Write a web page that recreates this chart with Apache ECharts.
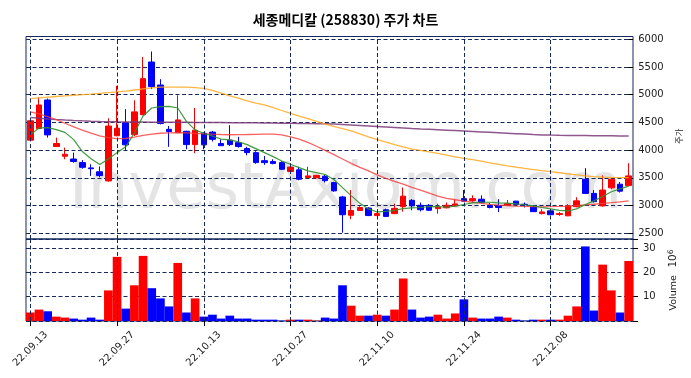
<!DOCTYPE html>
<html><head><meta charset="utf-8">
<script src="https://cdn.jsdelivr.net/npm/echarts@6/dist/echarts.min.js"></script>
<style>html,body{margin:0;padding:0;background:#fff}#c{width:691px;height:378px}</style>
</head><body><div id="c"></div>
<script>
const dates = ['22.09.13','22.09.14','22.09.15','22.09.16','22.09.19','22.09.20','22.09.21','22.09.22','22.09.23','22.09.26',
'22.09.27','22.09.28','22.09.29','22.09.30','22.10.04','22.10.05','22.10.06','22.10.07','22.10.11','22.10.12',
'22.10.13','22.10.14','22.10.17','22.10.18','22.10.19','22.10.20','22.10.21','22.10.24','22.10.25','22.10.26',
'22.10.27','22.10.28','22.10.31','22.11.01','22.11.02','22.11.03','22.11.04','22.11.07','22.11.08','22.11.09',
'22.11.10','22.11.11','22.11.14','22.11.15','22.11.16','22.11.17','22.11.18','22.11.21','22.11.22','22.11.23',
'22.11.24','22.11.25','22.11.28','22.11.29','22.11.30','22.12.01','22.12.02','22.12.05','22.12.06','22.12.07',
'22.12.08','22.12.09','22.12.12','22.12.13','22.12.14','22.12.15','22.12.16','22.12.19','22.12.20','22.12.21'];
const tickDates = ['22.09.13','22.09.27','22.10.13','22.10.27','22.11.10','22.11.24','22.12.08'];

const openP  = [4180,4390,4905,4065,3890,3840,3775,3680,3610,3445, 4260,4495,4280,4640,5590,5175,4375,4315,4340,4100,
                4305,4325,4120,4180,4135,4030,3955,3810,3795,3775, 3615,3645,3505,3500,3530,3415,3155,2825,2910,2955,
                2820,2925,2855,2980,3095,3005,3005,2945,2960,2995, 3125,3090,3115,3005,2995,3005,3080,3025,2975,2855,
                2905,2840,2815,2980,3475,3220,2995,3320,3385,3360];
const closeP = [4530,4815,4275,4120,3925,3795,3690,3665,3540,4435, 4395,4095,4690,5290,5145,4480,4335,4545,4100,4360,
                4095,4195,4080,4100,4065,3955,3775,3775,3760,3655, 3695,3475,3535,3545,3450,3265,2835,2910,2965,2820,
                2855,2805,2950,3170,2995,2925,2915,2975,3005,3030, 3080,3125,3055,2965,2965,3035,3020,3015,2890,2885,
                2835,2855,2995,3085,3220,3070,3280,3475,3260,3535];
const lowP   = [4175,4380,4225,4060,3835,3775,3665,3535,3510,3430, 4250,4005,4255,4630,5100,4465,4060,4305,4015,3945,
                4015,4155,4075,4075,4045,3905,3755,3735,3745,3640, 3595,3455,3500,3495,3415,3250,2510,2755,2905,2810,
                2810,2795,2845,2890,2915,2895,2905,2855,2950,2980, 3070,3055,3040,2950,2885,2990,3010,2965,2885,2840,
                2830,2815,2810,2970,3210,3055,2980,3295,3235,3350];
const highP  = [4545,4950,4930,4225,4045,3955,3820,3745,3705,4575, 5160,4740,4900,5680,5780,5280,4435,4990,4350,4760,
                4320,4345,4195,4450,4240,4060,3980,3895,3835,3800, 3765,3700,3700,3550,3550,3430,3175,3280,2990,2970,
                2870,2945,3035,3325,3115,3055,3025,3035,3055,3115, 3280,3185,3185,3050,3115,3100,3085,3055,2995,2935,
                2915,2885,3025,3150,3675,3280,3545,3490,3425,3765];
const volume = [3.5,4.7,4.0,1.8,1.4,1.0,0.55,1.4,0.55,12.6, 26.4,5.1,14.7,26.8,13.5,9.3,6.0,23.9,3.5,9.3,
                1.8,2.6,1.0,2.2,1.0,1.0,0.55,0.55,0.55,0.15, 0.55,0.55,0.55,0.15,1.4,1.0,14.7,6.3,2.2,2.2,
                2.6,2.2,4.7,17.5,4.7,1.4,1.8,2.6,1.0,3.1, 8.9,1.4,1.0,1.0,1.8,1.4,0.55,0.15,0.55,0.55,
                0.55,0.55,2.2,6.0,30.7,4.3,23.2,12.6,3.5,24.7];
const ma5   = [4280,4400,4405,4370,4320,4190,3975,3845,3740,3840, 3955,4060,4310,4615,4760,4785,4790,4760,4520,4365,
               4305,4255,4200,4184,4148,4100,4028,3955,3883,3805, 3745,3685,3625,3595,3560,3470,3324,3180,3040,2940,
               2885,2895,2915,2945,2960,2965,2980,2980,2970,2990, 3020,3050,3062,3060,3048,3045,3030,3015,2995,2965,
               2940,2915,2905,2940,3020,3085,3165,3250,3300,3350];
const ma20  = [4690,4655,4605,4548,4485,4420,4360,4305,4258,4225, 4208,4210,4235,4265,4290,4305,4312,4314,4310,4302,
               4295,4288,4282,4278,4280,4282,4285,4288,4290,4276, 4240,4200,4140,4070,3995,3920,3840,3762,3688,3625,
               3555,3490,3435,3385,3330,3278,3225,3170,3130,3105, 3080,3060,3040,3022,3008,2998,2990,2984,2980,2978,
               2980,2984,2990,3000,3012,3024,3038,3052,3068,3085];
const ma60  = [4930,4942,4955,4968,4980,4990,5000,5012,5025,5038, 5050,5065,5085,5105,5122,5135,5138,5138,5135,5128,
               5115,5080,5030,4980,4938,4890,4850,4815,4765,4715, 4665,4615,4570,4520,4470,4428,4388,4346,4295,4240,
               4190,4145,4100,4058,4020,3995,3968,3940,3910,3880, 3853,3828,3800,3772,3745,3718,3692,3670,3650,3630,
               3612,3592,3572,3552,3535,3522,3514,3508,3505,3503];
const ma120 = [4590,4576,4563,4552,4543,4535,4528,4522,4517,4513, 4510,4508,4507,4506,4505,4504,4503,4502,4501,4500,
               4499,4498,4497,4496,4495,4494,4492,4490,4488,4486, 4484,4482,4480,4478,4476,4472,4463,4454,4445,4436,
               4427,4418,4409,4400,4391,4383,4376,4369,4361,4353, 4345,4337,4329,4321,4313,4305,4297,4289,4281,4275,
               4271,4268,4266,4264,4262,4260,4259,4258,4257,4256];

const NAVY = '#14285e';
const DASH = [4, 2.5];
const FONT = 'DejaVu Sans';
const isTick = (i, v) => tickDates.indexOf(v) >= 0;

const chart = echarts.init(document.getElementById('c'), null, {renderer: 'canvas'});
const vline = {
  symbol: ['none', 'none'], silent: true, animation: false,
  label: {show: false}, emphasis: {disabled: true},
  lineStyle: {type: DASH, color: NAVY, width: 1},
  data: tickDates.map(d => ({xAxis: d}))
};

chart.setOption({
  animation: false,
  backgroundColor: '#fff',
  title: {
    text: '세종메디칼 (258830) 주가 차트', left: 'center', top: 8,
    textStyle: {fontSize: 14, fontWeight: 'bold', color: '#000', fontFamily: 'Noto Sans CJK KR'}
  },
  graphic: [{
    type: 'text', x: 345.5, y: 191, z: -10, silent: true,
    style: {text: 'InvestAxiom.com', font: '64px "DejaVu Sans"', fill: '#e4e4e4',
            textAlign: 'center', textVerticalAlign: 'middle'}
  }],
  grid: [
    {left: 26, right: 58, top: 36.5, height: 202.5, show: true, borderColor: NAVY, borderWidth: 1, backgroundColor: 'transparent'},
    {left: 26, right: 58, top: 39.3, height: 194},
    {left: 26, right: 58, top: 239, height: 82, show: true, borderColor: NAVY, borderWidth: 1, backgroundColor: 'transparent'}
  ],
  xAxis: [
    {gridIndex: 0, type: 'category', data: dates, boundaryGap: true,
     axisLine: {show: false}, axisTick: {show: false}, axisLabel: {show: false}, splitLine: {show: false}},
    {gridIndex: 1, type: 'category', data: dates, show: false},
    {gridIndex: 2, type: 'category', data: dates, boundaryGap: true,
     axisLine: {show: false}, splitLine: {show: false},
     axisTick: {show: true, alignWithLabel: true, interval: isTick, length: 5, lineStyle: {color: '#000'}},
     axisLabel: {interval: isTick, rotate: 45, align: 'center', verticalAlign: 'middle', margin: 28,
                 fontSize: 10, color: '#222', fontFamily: FONT}}
  ],
  yAxis: [
    {gridIndex: 0, type: 'value', min: 2397, max: 6050, show: false, splitLine: {show: false}},
    {gridIndex: 1, type: 'value', position: 'right', min: 2500, max: 6000, interval: 500,
     axisLine: {show: false},
     axisTick: {show: true, length: 5, lineStyle: {color: '#000'}},
     axisLabel: {fontSize: 10, color: '#222', margin: 10, fontFamily: FONT, formatter: v => String(v)},
     splitLine: {show: true, lineStyle: {type: DASH, color: NAVY, width: 1}},
     name: '주가', nameLocation: 'middle', nameGap: 39, nameRotate: 90,
     nameTextStyle: {fontSize: 8.5, color: '#222', fontFamily: 'Noto Sans CJK KR'}},
    {gridIndex: 2, type: 'value', position: 'right', min: 0, max: 33.75, interval: 10,
     axisLine: {show: false},
     axisTick: {show: true, length: 5, lineStyle: {color: '#000'}},
     axisLabel: {fontSize: 10, color: '#222', margin: 10, fontFamily: FONT,
                 formatter: v => (v > 0 && v % 10 === 0) ? String(v) : ''},
     splitLine: {show: true, lineStyle: {type: DASH, color: NAVY, width: 1}},
     name: '{a|Volume}  {b|10}{s|6}', nameLocation: 'middle', nameGap: 31, nameRotate: 90,
     nameTextStyle: {color: '#222', fontFamily: FONT,
       rich: {a: {fontSize: 9.5, fontFamily: FONT, color: '#222'},
              b: {fontSize: 10.5, fontFamily: FONT, color: '#222'},
              s: {fontSize: 7.5, fontFamily: FONT, color: '#222', verticalAlign: 'top', padding: [0, 0, 6, 0]}}}}
  ],
  series: [
    {type: 'line', xAxisIndex: 0, yAxisIndex: 0, data: [], z: 1, silent: true, markLine: vline},
    {type: 'line', xAxisIndex: 2, yAxisIndex: 2, data: [], z: 1, silent: true, markLine: vline},
    {type: 'candlestick', xAxisIndex: 0, yAxisIndex: 0, barWidth: 6, z: 2,
     itemStyle: {color: '#ff0000', color0: '#0000ff', borderColor: '#ff0000', borderColor0: '#0000ff', borderWidth: 1},
     data: dates.map((d, i) => [openP[i], closeP[i], lowP[i], highP[i]])},
    {type: 'line', xAxisIndex: 0, yAxisIndex: 0, data: ma120, showSymbol: false, z: 3, silent: true,
     lineStyle: {color: '#7a3a7a', width: 1.5, opacity: 0.85}},
    {type: 'line', xAxisIndex: 0, yAxisIndex: 0, data: ma60, showSymbol: false, z: 3, silent: true,
     lineStyle: {color: '#ffa81f', width: 1.3, opacity: 0.85}},
    {type: 'line', xAxisIndex: 0, yAxisIndex: 0, data: ma20, showSymbol: false, z: 3, silent: true,
     lineStyle: {color: '#f53a3a', width: 1.3, opacity: 0.8}},
    {type: 'line', xAxisIndex: 0, yAxisIndex: 0, data: ma5, showSymbol: false, z: 3, silent: true,
     lineStyle: {color: '#2e8f2e', width: 1.2, opacity: 0.9}},
    {type: 'bar', xAxisIndex: 2, yAxisIndex: 2, barWidth: '100%', z: 2,
     data: volume.map((v, i) => ({value: v, itemStyle: {color: closeP[i] >= openP[i] ? '#ff0000' : '#0000ff'}}))}
  ]
});
</script></body></html>
